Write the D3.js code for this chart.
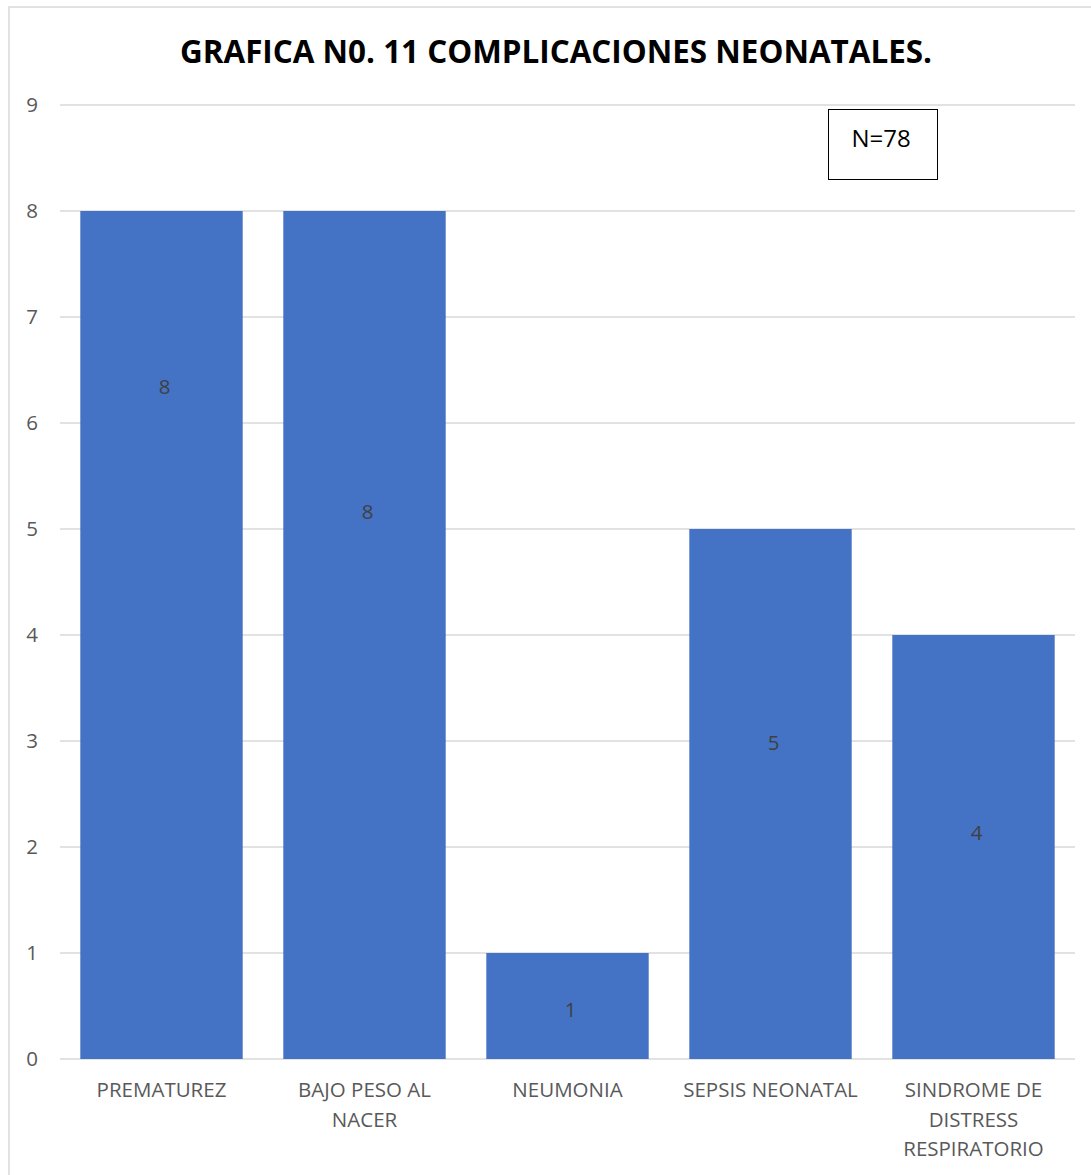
<!DOCTYPE html>
<html><head><meta charset="utf-8">
<script src="https://cdn.jsdelivr.net/npm/d3@7"></script>
<style>body{margin:0;background:#fff}</style>
</head><body>
<svg id="c" width="1091" height="1175"></svg>
<script>
const categories = ["PREMATUREZ", "BAJO PESO AL NACER", "NEUMONIA", "SEPSIS NEONATAL", "SINDROME DE DISTRESS RESPIRATORIO"];
const categoryLines = [["PREMATUREZ"], ["BAJO PESO AL", "NACER"], ["NEUMONIA"], ["SEPSIS NEONATAL"], ["SINDROME DE", "DISTRESS", "RESPIRATORIO"]];
const values = [8, 8, 1, 5, 4];
const labelAt = [6.34, 5.16, 0.46, 2.98, 2.13];
const yTicks = [0, 1, 2, 3, 4, 5, 6, 7, 8, 9];
const title = "GRAFICA N0. 11 COMPLICACIONES NEONATALES.";
const note = "N=78";

const svg = d3.select("#c");
const font = "'Open Sans', sans-serif";
const m = {left: 60, right: 1075, top: 105, bottom: 1059};

svg.append("rect").attr("x", 9).attr("y", 7).attr("width", 1100).attr("height", 1200)
  .attr("fill", "#fff").attr("stroke", "#d9d9d9").attr("stroke-width", 1.5);

const x = d3.scaleBand().domain(categories).range([m.left, m.right]).paddingInner(0.2).paddingOuter(0.1);
const y = d3.scaleLinear().domain([0, 9]).range([m.bottom, m.top]);

// gridlines
svg.append("g").selectAll("line").data(yTicks).join("line")
  .attr("x1", m.left).attr("x2", m.right)
  .attr("y1", d => y(d)).attr("y2", d => y(d))
  .attr("stroke", "#d9d9d9").attr("stroke-width", 1.5);

// y tick labels
svg.append("g").selectAll("text").data(yTicks).join("text")
  .attr("x", 38).attr("y", d => y(d)).attr("dy", "0.35em")
  .attr("text-anchor", "end").attr("font-family", font).attr("font-size", 20.5)
  .attr("fill", "#595959").text(d => d);

// bars
svg.append("g").selectAll("rect").data(values).join("rect")
  .attr("x", (d, i) => x(categories[i])).attr("width", x.bandwidth())
  .attr("y", d => y(d)).attr("height", d => y(0) - y(d))
  .attr("fill", "#4472C4");

// data labels
svg.append("g").selectAll("text").data(values).join("text")
  .attr("x", (d, i) => x(categories[i]) + x.bandwidth() / 2 + 3)
  .attr("y", (d, i) => y(labelAt[i])).attr("dy", "0.35em")
  .attr("text-anchor", "middle").attr("font-family", font).attr("font-size", 20.5)
  .attr("fill", "#404040").text(d => d);

// category labels
const cg = svg.append("g").selectAll("text").data(categories).join("text")
  .attr("text-anchor", "middle").attr("font-family", font).attr("font-size", 20.5)
  .attr("fill", "#595959")
  .attr("transform", d => `translate(${x(d) + x.bandwidth() / 2},${m.bottom + 38})`);
cg.selectAll("tspan").data((d, i) => categoryLines[i]).join("tspan")
  .attr("x", 0).attr("dy", (d, j) => j === 0 ? 0 : 29.5).text(d => d);

// title
svg.append("text").attr("x", 556).attr("y", 63).attr("text-anchor", "middle")
  .attr("font-family", font).attr("font-weight", "bold").attr("font-size", 32)
  .attr("textLength", 752).attr("lengthAdjust", "spacingAndGlyphs")
  .attr("fill", "#000").text(title);

// N box
svg.append("rect").attr("x", 828.5).attr("y", 109.5).attr("width", 109).attr("height", 70)
  .attr("fill", "#fff").attr("stroke", "#000").attr("stroke-width", 1);
svg.append("text").attr("x", 881).attr("y", 139).attr("dy", "0.35em").attr("text-anchor", "middle")
  .attr("font-family", font).attr("font-size", 24).attr("fill", "#000").text(note);
</script>
</body></html>
